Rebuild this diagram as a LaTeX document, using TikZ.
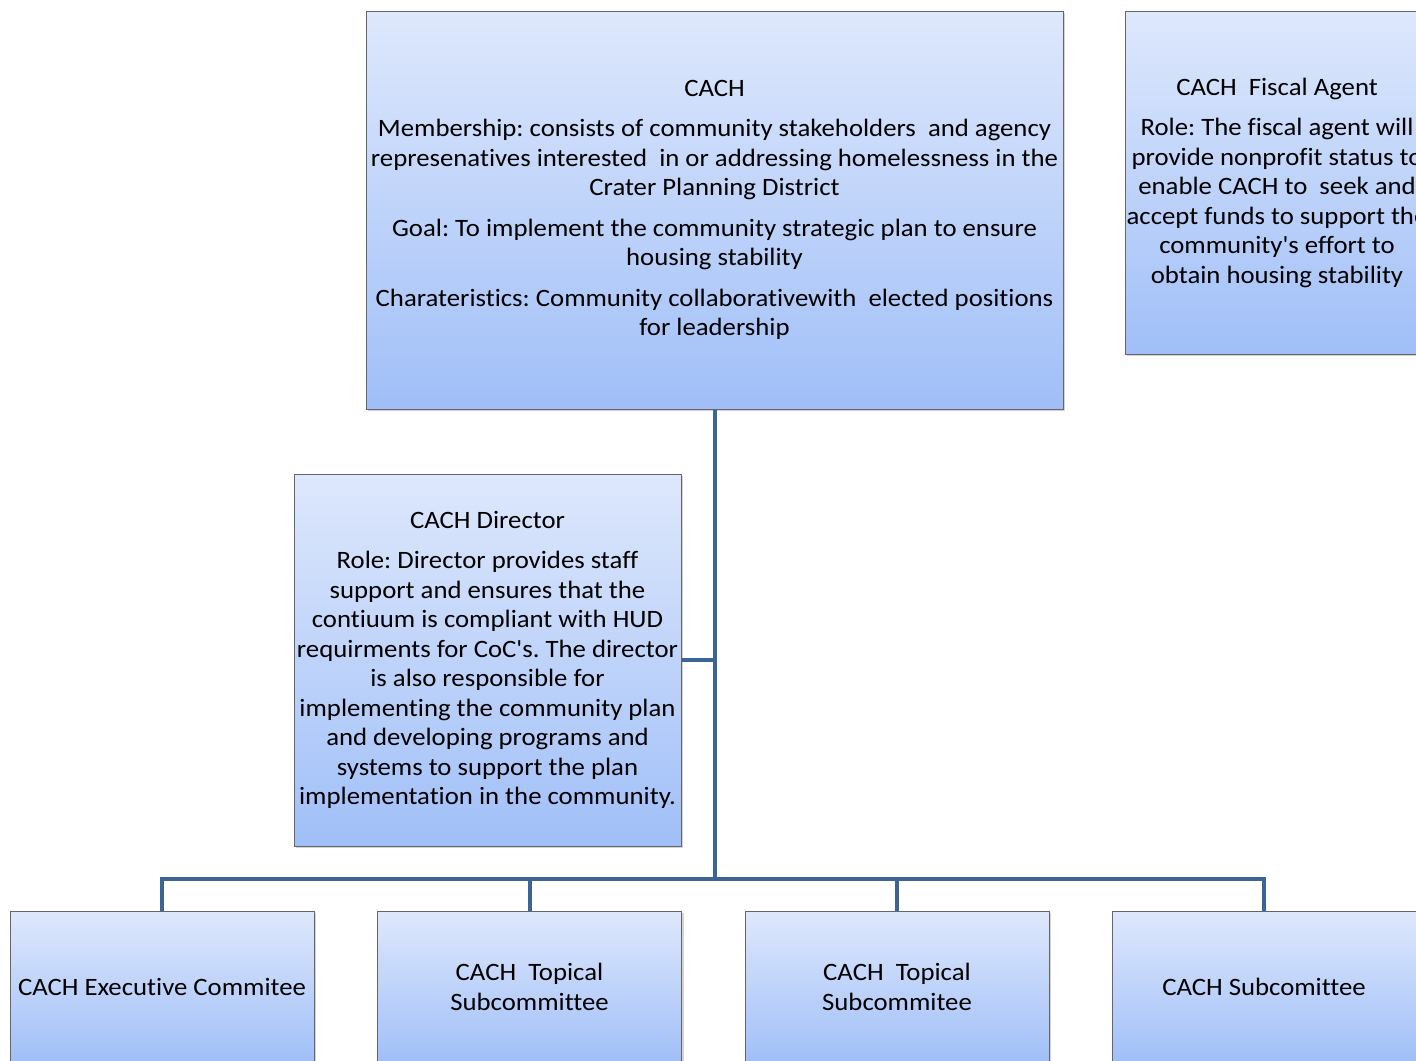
\documentclass[tikz,border=0pt]{standalone}
\usepackage{fontspec}
\setmainfont{Carlito}[Ligatures={TeXOff,CommonOff}, FakeStretch=1.07]
\frenchspacing
\usetikzlibrary{shadows}
\definecolor{boxtop}{RGB}{222,232,252}
\definecolor{boxbot}{RGB}{160,191,248}
\definecolor{linkblue}{RGB}{62,100,150}
\begin{document}
\begin{tikzpicture}[x=0.5pt, y=-0.5pt,
    orgbox/.style={draw=gray!80!black, line width=0.5pt, top color=boxtop, bottom color=boxbot,
        align=center, inner sep=0pt, font=\fontsize{12.5}{14.75}\selectfont,
        drop shadow={shadow xshift=1pt, shadow yshift=-1pt, opacity=0.35}},
    lowbox/.style={orgbox, minimum width=152pt, minimum height=76pt},
    link/.style={draw=linkblue, line width=2pt}]
    \useasboundingbox (0,0) rectangle (1416,1060);
    \clip (0,0) rectangle (1416,1060);
    % top level
    \node[orgbox, minimum width=348.5pt, minimum height=199pt] (cach) at (714.5,210)
        {CACH\\[5.5pt]
         Membership: consists of community stakeholders~ and agency\\
         represenatives interested~ in or addressing homelessness in the\\
         Crater Planning District\\[5.5pt]
         Goal: To implement the community strategic plan to ensure\\
         housing stability\\[5.5pt]
         Charateristics: Community collaborativewith~ elected positions\\
         for leadership};
    \node[orgbox, minimum width=152pt, minimum height=171.5pt] (fiscal) at (1277,182.5)
        {CACH~ Fiscal Agent\\[5.5pt]
         Role: The fiscal agent will\\
         provide nonprofit status to\\
         enable CACH to~ seek and\\
         accept funds to support the\\
         community's effort to\\
         obtain housing stability};
    \node[orgbox, minimum width=193.5pt, minimum height=186pt] (director) at (487.5,660)
        {CACH Director\\[5.5pt]
         Role: Director provides staff\\
         support and ensures that the\\
         contiuum is compliant with HUD\\
         requirments for CoC's. The director\\
         is also responsible for\\
         implementing the community plan\\
         and developing programs and\\
         systems to support the plan\\
         implementation in the community.};
    % bottom row
    \node[lowbox] (exec) at (162,987) {CACH Executive Commitee};
    \node[lowbox] (topa) at (529.5,987) {CACH~ Topical\\Subcommittee};
    \node[lowbox] (topb) at (897,987) {CACH~ Topical\\Subcommitee};
    \node[lowbox] (subc) at (1264,987) {CACH Subcomittee};
    % connectors
    \coordinate (hub) at (714.5,879);
    \draw[link] (cach.south) -- (hub);
    \draw[link] (director.east) -- (director.east -| hub);
    \draw[link] (exec.north) |- (hub) -| (subc.north);
    \draw[link] (topa.north) -- (topa.north |- hub);
    \draw[link] (topb.north) -- (topb.north |- hub);
\end{tikzpicture}
\end{document}
